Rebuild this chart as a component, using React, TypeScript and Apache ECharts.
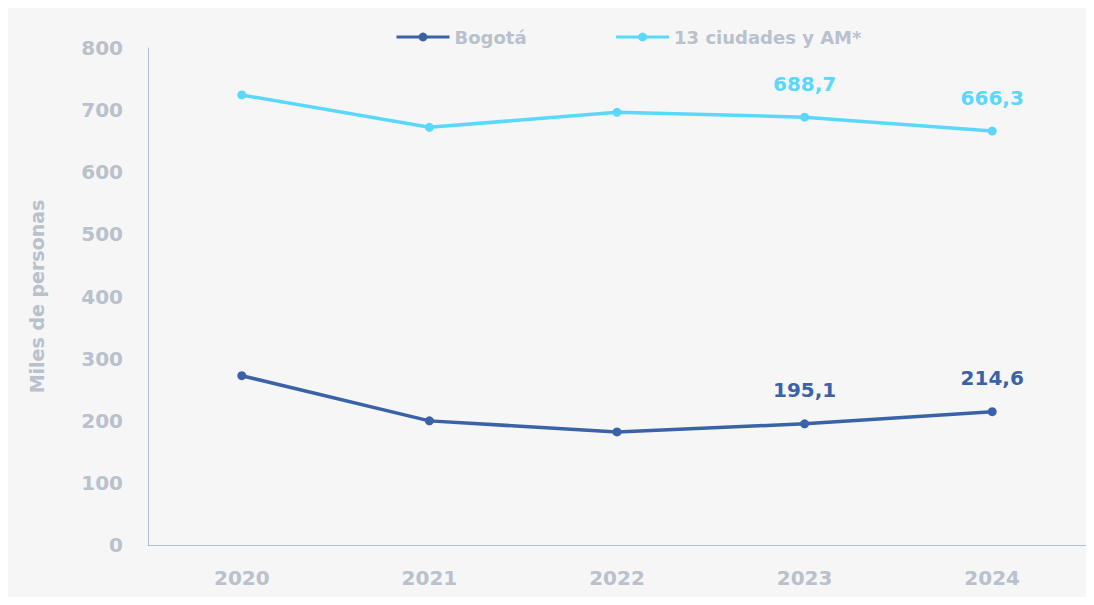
import React, { useEffect, useRef } from "react";
import * as echarts from "echarts";

const years = ["2020", "2021", "2022", "2023", "2024"];
const bogota = [272.5, 199.8, 182.0, 195.1, 214.6];
const ciudades = [724.4, 672.3, 696.5, 688.7, 666.3];
const labeledYears = ["2023", "2024"];

const DARK = "#3a62a8";
const LIGHT = "#5ad8fc";
const GREY = "#b8c1cc";
const FONT = "'DejaVu Sans', 'Noto Sans', sans-serif";

function makeData(vals: number[], color: string) {
  return vals.map((v, i) => ({
    value: v,
    label: {
      show: labeledYears.includes(years[i]),
      position: "top",
      distance: 19,
      color,
      fontSize: 20,
      fontWeight: "bold",
      fontFamily: FONT,
      formatter: (p: any) => p.value.toFixed(1).replace(".", ","),
    },
  }));
}

export default function App() {
  const ref = useRef<HTMLDivElement>(null);
  useEffect(() => {
    if (!ref.current) return;
    const chart = echarts.init(ref.current, null, { renderer: "svg" });
    chart.setOption({
      animation: false,
      backgroundColor: "#f6f6f6",
      textStyle: { fontFamily: FONT },
      legend: {
        top: 15,
        left: 382,
        itemGap: 88,
        itemWidth: 53,
        itemHeight: 11,
        lineStyle: { width: 3 },
        textStyle: { color: GREY, fontSize: 18, fontWeight: "bold", fontFamily: FONT },
        data: ["Bogotá", "13 ciudades y AM*"],
      },
      grid: { left: 140, right: -2, top: 40, bottom: 52, containLabel: false },
      xAxis: {
        type: "category",
        data: years,
        boundaryGap: true,
        axisLine: { lineStyle: { color: "#b4bfcd", width: 1 } },
        axisTick: { show: false },
        axisLabel: { color: GREY, fontSize: 20, fontWeight: "bold", margin: 23, fontFamily: FONT },
      },
      yAxis: {
        type: "value",
        min: 0,
        max: 800,
        interval: 100,
        name: "Miles de personas",
        nameLocation: "middle",
        nameGap: 102,
        nameTextStyle: { color: GREY, fontSize: 19, fontWeight: "bold", fontFamily: FONT },
        axisLine: { show: true, lineStyle: { color: "#b4bfcd", width: 1 } },
        axisTick: { show: false },
        splitLine: { show: false },
        axisLabel: { color: GREY, fontSize: 20, fontWeight: "bold", margin: 25, fontFamily: FONT },
      },
      series: [
        {
          name: "Bogotá",
          type: "line",
          data: makeData(bogota, DARK),
          color: DARK,
          symbol: "circle",
          symbolSize: 9,
          lineStyle: { width: 3.5, color: DARK },
          itemStyle: { color: DARK },
        },
        {
          name: "13 ciudades y AM*",
          type: "line",
          data: makeData(ciudades, LIGHT),
          color: LIGHT,
          symbol: "circle",
          symbolSize: 9,
          lineStyle: { width: 3.5, color: LIGHT },
          itemStyle: { color: LIGHT },
        },
      ],
    });
    return () => chart.dispose();
  }, []);
  return <div ref={ref} style={{ width: 1078, height: 589 }} />;
}
